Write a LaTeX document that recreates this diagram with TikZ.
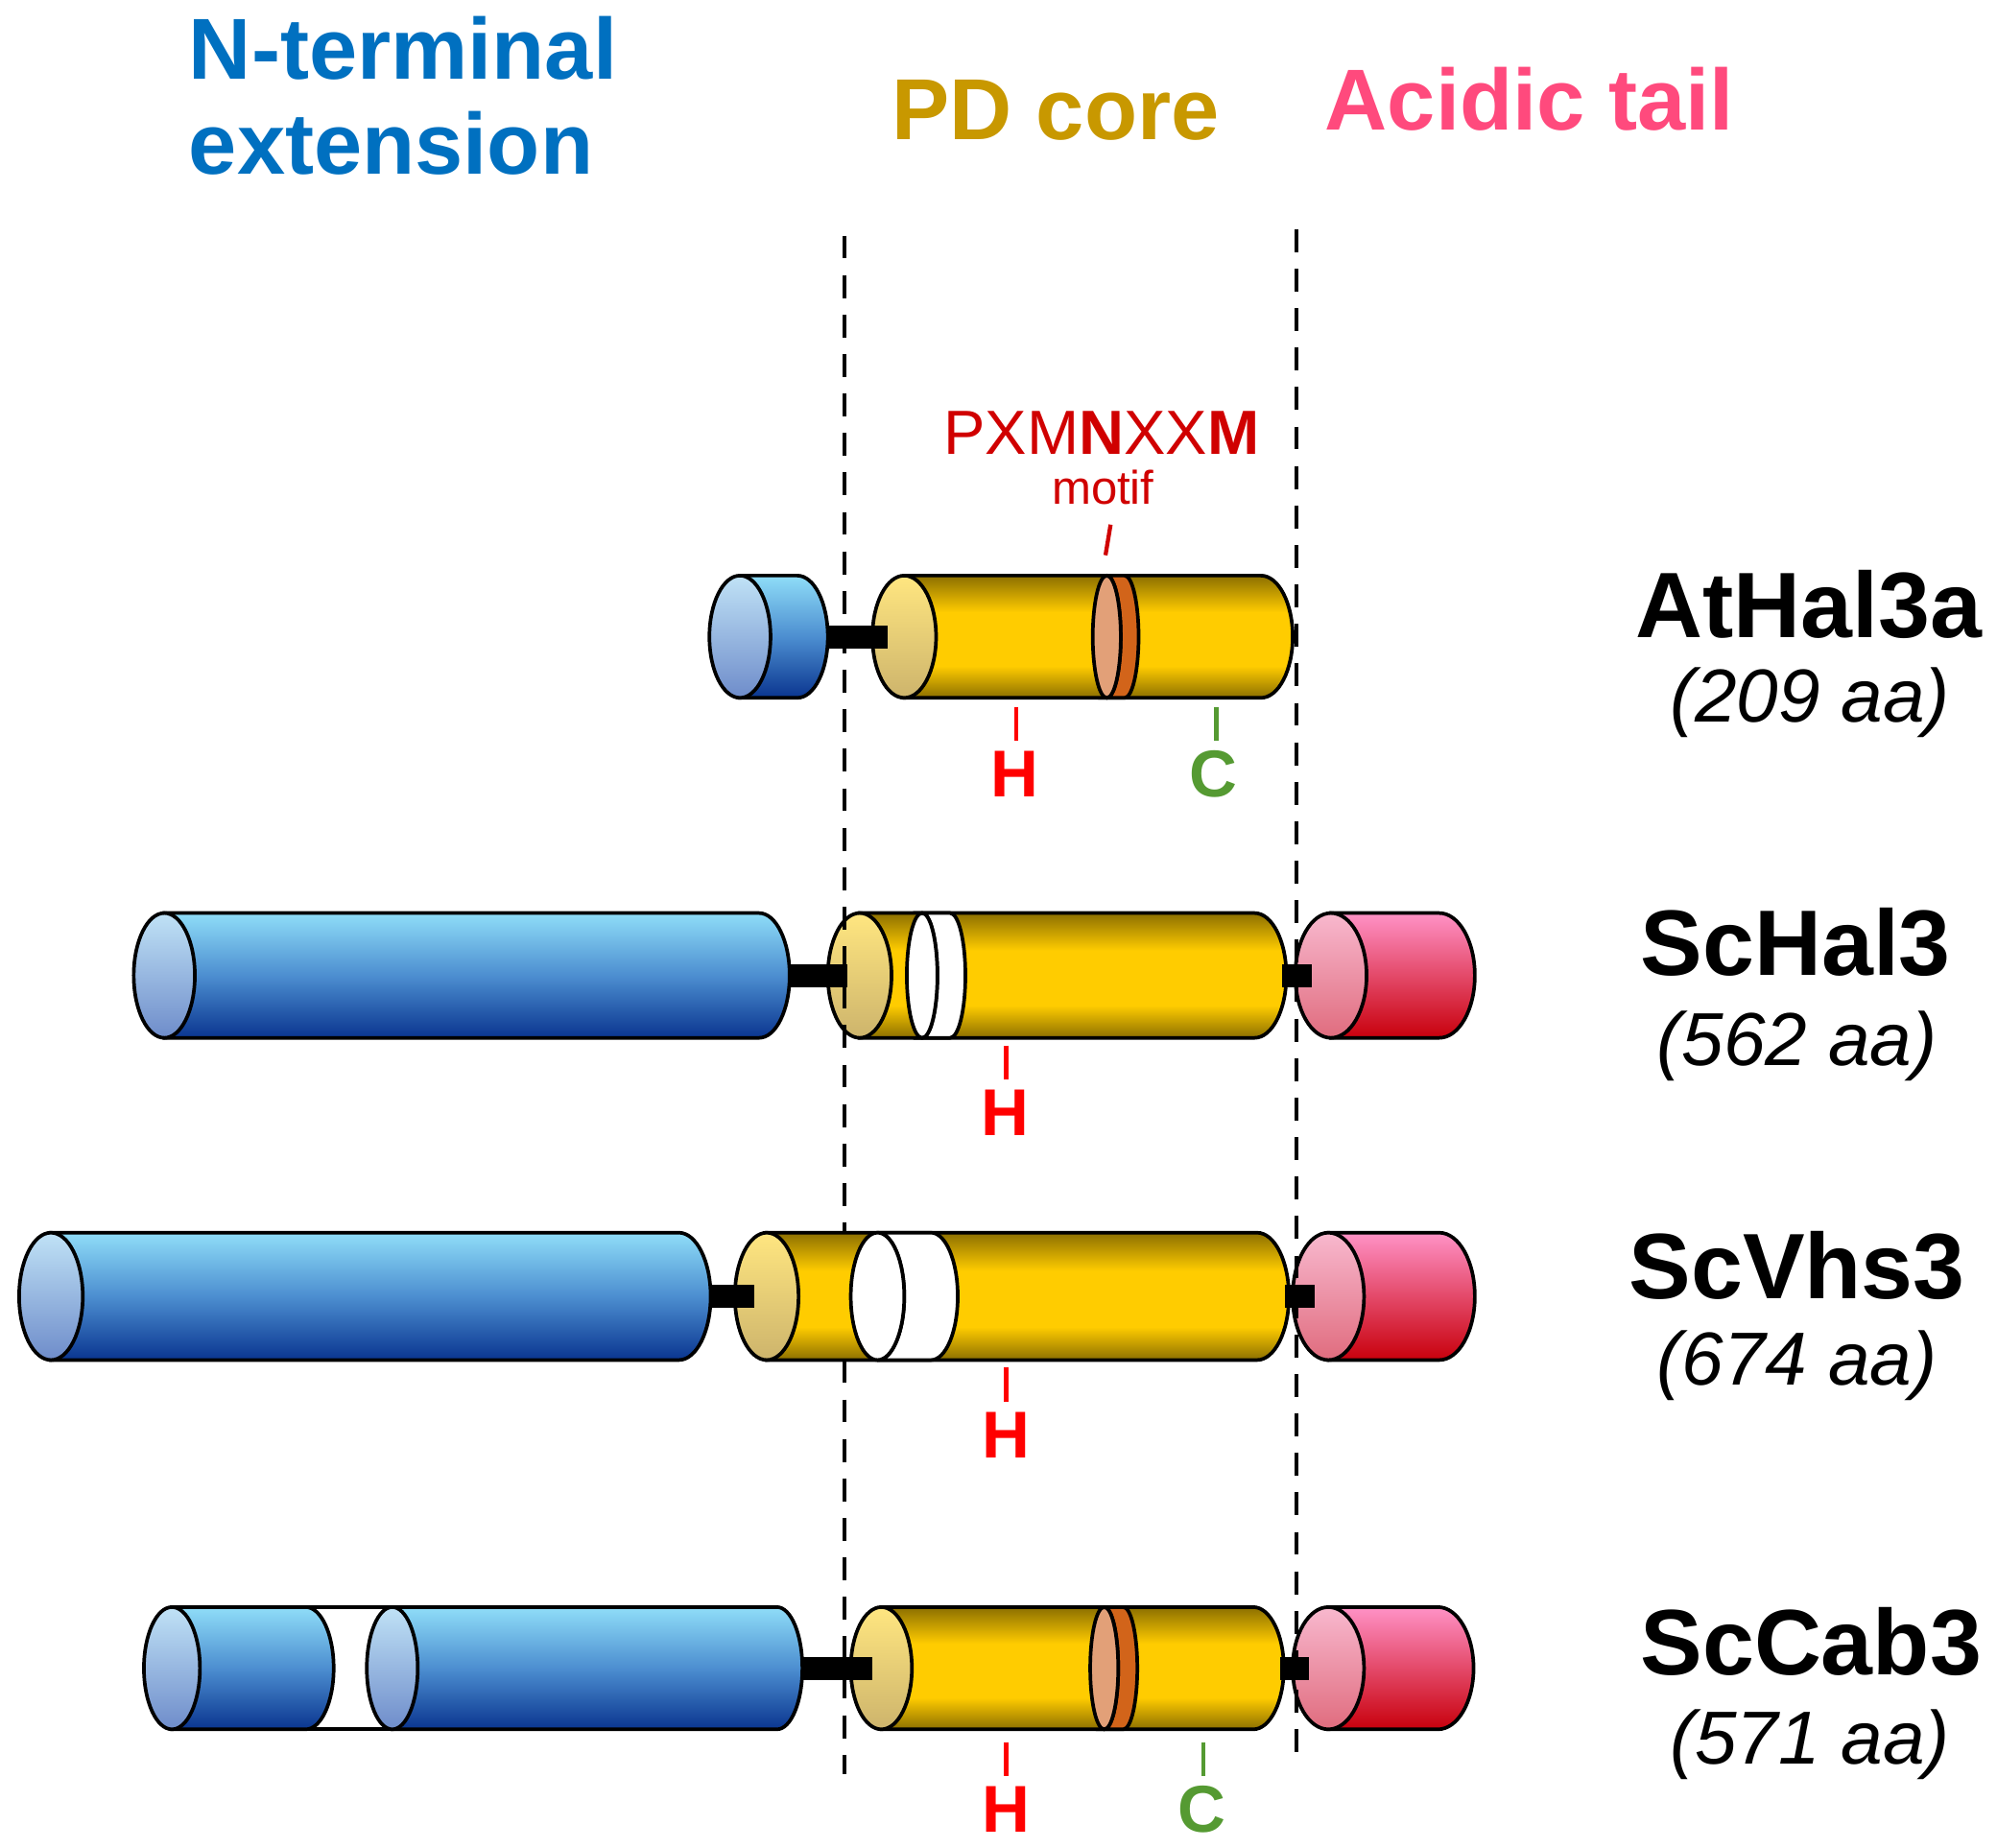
\documentclass[tikz,border=0pt]{standalone}
\usepackage{fontspec}
\setmainfont{Liberation Sans}
\definecolor{ntblue}{HTML}{0070C0}
\definecolor{pdgold}{HTML}{C89800}
\definecolor{acpink}{HTML}{FF4A7D}
\definecolor{motred}{HTML}{D00000}
\definecolor{hred}{HTML}{FF0000}
\definecolor{cgreen}{HTML}{559A32}
\definecolor{bluetop}{HTML}{8FDDF8}
\definecolor{bluemid}{HTML}{4C8ED0}
\definecolor{bluebot}{HTML}{0A3590}
\definecolor{bcaptop}{HTML}{C0E2F6}
\definecolor{bcapbot}{HTML}{6E8CCA}
\definecolor{yeltop}{HTML}{8C6F00}
\definecolor{yelmid}{HTML}{FFCC00}
\definecolor{ycaptop}{HTML}{FFE680}
\definecolor{ycapbot}{HTML}{CDB46C}
\definecolor{pinktop}{HTML}{FF92C6}
\definecolor{pinkbot}{HTML}{C8000C}
\definecolor{pcaptop}{HTML}{F8B8CE}
\definecolor{pcapbot}{HTML}{E06C7E}
\definecolor{motlight}{HTML}{E2A078}
\definecolor{motdark}{HTML}{D2641A}
\pgfdeclareverticalshading{yelshade}{100bp}{color(0bp)=(yeltop); color(25bp)=(yeltop); color(38bp)=(yelmid); color(60bp)=(yelmid); color(75bp)=(yeltop); color(100bp)=(yeltop)}
\tikzset{
  outl/.style={draw=black, line width=1.4pt},
  bluebody/.style={outl, top color=bluetop, bottom color=bluebot, middle color=bluemid},
  bluecap/.style={outl, top color=bcaptop, bottom color=bcapbot},
  yelbody/.style={outl, shade, shading=yelshade},
  yelcap/.style={outl, top color=ycaptop, bottom color=ycapbot},
  pinkbody/.style={outl, top color=pinktop, bottom color=pinkbot},
  pinkcap/.style={outl, top color=pcaptop, bottom color=pcapbot},
  whiteband/.style={outl, fill=white},
  motdarkst/.style={outl, fill=motdark},
  motlightst/.style={outl, fill=motlight},
  linker/.style={fill=black, draw=none},
  divider/.style={draw=black, line width=1.4pt, dash pattern=on 9pt off 6.5pt},
  htick/.style={draw=hred, line width=1.6pt},
  ctick/.style={draw=cgreen, line width=1.6pt},
  mtick/.style={draw=motred, line width=1.6pt},
  title/.style={inner sep=0pt, anchor=base west, font=\fontsize{34}{40}\selectfont\bfseries},
  protname/.style={inner sep=0pt, anchor=base, font=\fontsize{36.5}{40}\selectfont\bfseries},
  protlen/.style={inner sep=0pt, anchor=base, font=\fontsize{29.5}{34}\selectfont\itshape},
  reslab/.style={inner sep=0pt, anchor=base, font=\fontsize{26}{30}\selectfont\bfseries},
}
% #1 cap centre x, #2 right end x, #3 centre y, #4 half height, #5 end radius, #6 body style, #7 cap style
\newcommand{\protcyl}[7]{%
  \path[#6] (#1,#3-#4) -- (#2-#5,#3-#4) arc[start angle=-90,end angle=90,x radius=#5,y radius=#4] -- (#1,#3+#4) -- cycle;
  \path[#7] (#1,#3) ellipse[x radius=#5, y radius=#4];
}
% #1 left ellipse centre, #2 right arc centre, #3 centre y, #4 half height, #5 radius, #6 band style, #7 ellipse style
\newcommand{\protband}[7]{%
  \path[#6] (#1,#3-#4) -- (#2,#3-#4) arc[start angle=-90,end angle=90,x radius=#5,y radius=#4] -- (#1,#3+#4) arc[start angle=90,end angle=-90,x radius=#5,y radius=#4] -- cycle;
  \path[#7] (#1,#3) ellipse[x radius=#5, y radius=#4];
}
\begin{document}
\begin{tikzpicture}[x=0.5pt, y=-0.5pt]
\useasboundingbox (0,0) rectangle (1568,1451);
% titles
\node[title, text=ntblue] (tN) at (148,62) {N-terminal};
\node[title, text=ntblue] (tE) at (148,137) {extension};
\node[title, text=pdgold] (tPD) at (700,110) {PD core};
\node[title, text=acpink] (tAc) at (1040,102) {Acidic tail};

% ---------- AtHal3a ----------
\protcyl{581}{650}{500}{48}{24}{bluebody}{bluecap}
\protcyl{710}{1015}{500}{48}{25}{yelbody}{yelcap}
\protband{869}{883}{500}{48}{11}{motdarkst}{motlightst}
\path[linker] (649,491) rectangle (697,509);

% ---------- ScHal3 ----------
\protcyl{129}{620}{766}{49}{24}{bluebody}{bluecap}
\protcyl{675}{1010}{766}{49}{25}{yelbody}{yelcap}
\protband{724}{746}{766}{49}{12}{whiteband}{whiteband}
\protcyl{1045}{1158}{766}{49}{28}{pinkbody}{pinkcap}
\path[linker] (619,757) rectangle (665,775);
\path[linker] (1007,757) rectangle (1030,775);

% ---------- ScVhs3 ----------
\protcyl{40}{558}{1018}{50}{25}{bluebody}{bluecap}
\protcyl{602}{1012}{1018}{50}{25}{yelbody}{yelcap}
\protband{689}{731}{1018}{50}{21}{whiteband}{whiteband}
\protcyl{1043}{1158}{1018}{50}{28}{pinkbody}{pinkcap}
\path[linker] (557,1009) rectangle (592,1027);
\path[linker] (1009,1009) rectangle (1032,1027);

% ---------- ScCab3 ----------
\path[outl, fill=white] (236,1262) rectangle (308,1358);
\protcyl{135}{262}{1310}{48}{22}{bluebody}{bluecap}
\protcyl{308}{630}{1310}{48}{20}{bluebody}{bluecap}
\protcyl{692}{1008}{1310}{48}{24}{yelbody}{yelcap}
\protband{867}{882}{1310}{48}{11}{motdarkst}{motlightst}
\protcyl{1043}{1157}{1310}{48}{28}{pinkbody}{pinkcap}
\path[linker] (629,1301) rectangle (685,1319);
\path[linker] (1005,1301) rectangle (1028,1319);

% dividers
\coordinate (dLa) at (663,185);
\coordinate (dLb) at (663,968);
\coordinate (dLc) at (663,1068);
\coordinate (dLd) at (663,1393);
\coordinate (dRa) at (1018,180);
\coordinate (dRb) at (1018,1385);
\draw[divider] (dLa) -- (dLb);
\draw[divider] (dLc) -- (dLd);
\draw[divider] (dRa) -- (dRb);

% motif label
\node[inner sep=0pt, anchor=base, text=motred, font=\fontsize{24.5}{28}\selectfont] (motif) at (865,357) {PXM\textbf{N}XX\textbf{M}};
\node[inner sep=0pt, anchor=base, text=motred, font=\fontsize{18.5}{22}\selectfont] (motifw) at (866,396) {motif};
\coordinate (mt1) at (872,412);
\coordinate (mt2) at (868,436);
\draw[mtick] (mt1) -- (mt2);

% residue marks
\coordinate (h1a) at (798,555); \coordinate (h1b) at (798,582);
\draw[htick] (h1a) -- (h1b);
\node[reslab, text=hred] (H1) at (797,626) {H};
\coordinate (c1a) at (955,555); \coordinate (c1b) at (955,582);
\draw[ctick] (c1a) -- (c1b);
\node[reslab, text=cgreen] (C1) at (953,626) {C};

\coordinate (h2a) at (790,821); \coordinate (h2b) at (790,848);
\draw[htick] (h2a) -- (h2b);
\node[reslab, text=hred] (H2) at (789,892) {H};

\coordinate (h3a) at (790,1074); \coordinate (h3b) at (790,1101);
\draw[htick] (h3a) -- (h3b);
\node[reslab, text=hred] (H3) at (790,1145) {H};

\coordinate (h4a) at (790,1368); \coordinate (h4b) at (790,1395);
\draw[htick] (h4a) -- (h4b);
\node[reslab, text=hred] (H4) at (790,1439) {H};
\coordinate (c4a) at (945,1368); \coordinate (c4b) at (945,1395);
\draw[ctick] (c4a) -- (c4b);
\node[reslab, text=cgreen] (C4) at (944,1439) {C};

% protein names
\node[protname] (nAt) at (1420,501) {AtHal3a};
\node[protlen] (lAt) at (1421,567) {(209 aa)};
\node[protname] (nHal) at (1410,766) {ScHal3};
\node[protlen] (lHal) at (1411,837) {(562 aa)};
\node[protname] (nVhs) at (1411,1020) {ScVhs3};
\node[protlen] (lVhs) at (1411,1088) {(674 aa)};
\node[protname] (nCab) at (1422,1315) {ScCab3};
\node[protlen] (lCab) at (1421,1385) {(571 aa)};
\end{tikzpicture}
\end{document}
